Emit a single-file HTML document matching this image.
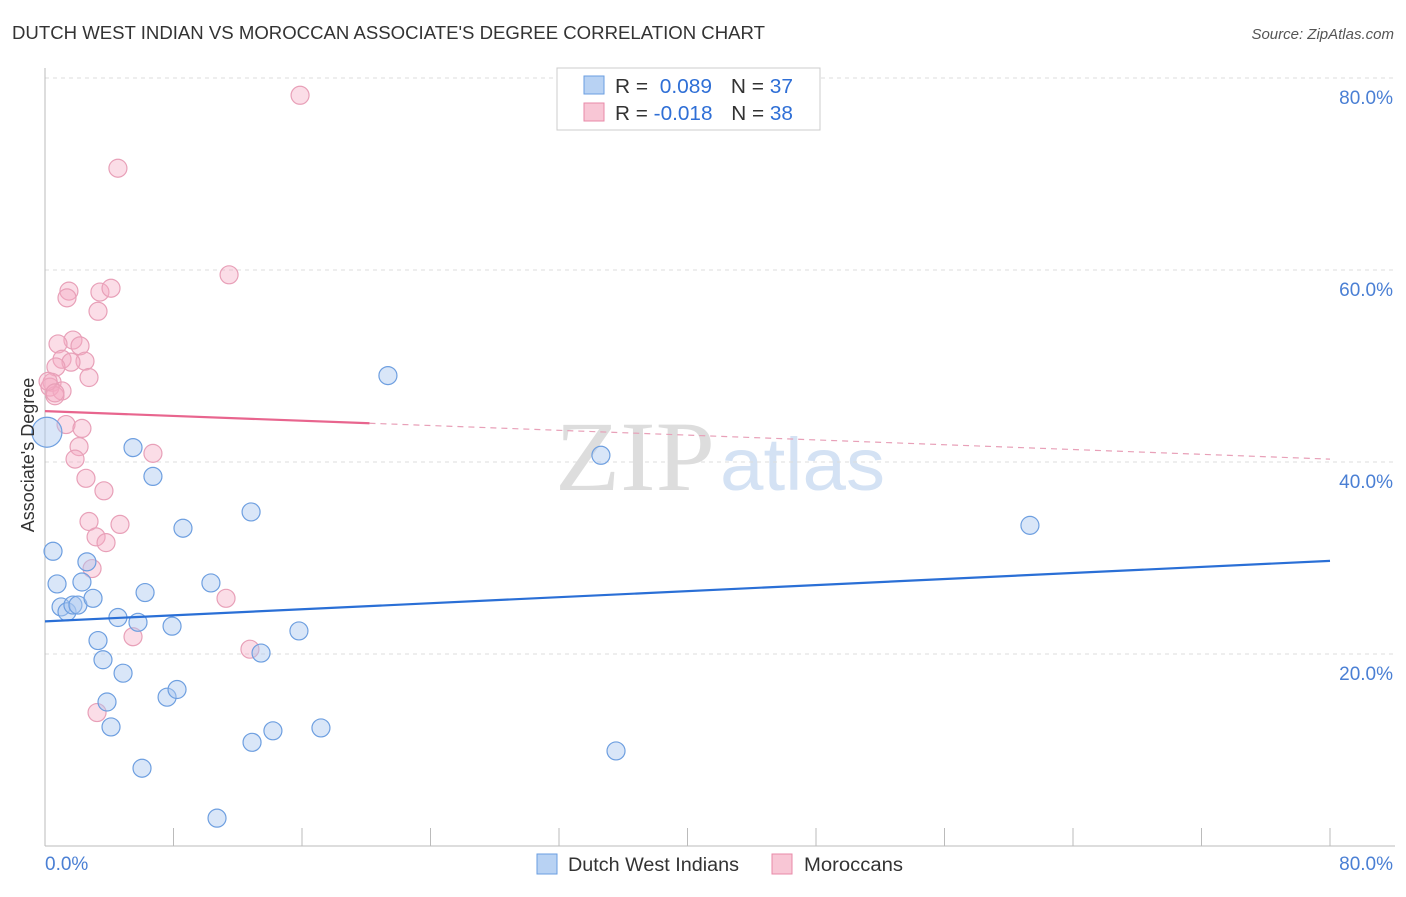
<!DOCTYPE html>
<html><head><meta charset="utf-8"><style>
body{margin:0;background:#fff;font-family:"Liberation Sans",sans-serif}
svg text{font-family:"Liberation Sans",sans-serif}
</style></head><body>
<svg id="c" width="1406" height="892" xmlns="http://www.w3.org/2000/svg">
<text x="12" y="39" font-size="18" fill="#333" textLength="753" lengthAdjust="spacingAndGlyphs">DUTCH WEST INDIAN VS MOROCCAN ASSOCIATE'S DEGREE CORRELATION CHART</text>
<text x="1394" y="39" font-size="15" fill="#555" text-anchor="end" font-style="italic">Source: ZipAtlas.com</text>
<g>
<text x="555" y="490" font-size="100" fill="#ddd" textLength="160" lengthAdjust="spacingAndGlyphs" style="font-family:'Liberation Serif',serif">ZIP</text>
<text x="720" y="490" font-size="74" fill="#d4e2f4" textLength="165" lengthAdjust="spacingAndGlyphs">atlas</text>
</g>
<g id="grid"></g><g id="axes"></g><g id="pts"></g><g id="trend"></g>
<text transform="translate(34,455) rotate(-90)" font-size="18" fill="#333" text-anchor="middle">Associate's Degree</text>
<g>
<rect x="557" y="68" width="263" height="62" fill="#fff" stroke="#ccc"/>
<rect x="584" y="76" width="20" height="18" fill="#b8d2f3" stroke="#6a9ee0"/>
<rect x="584" y="103" width="20" height="18" fill="#f8c6d5" stroke="#e88aa8"/>
<text x="615" y="93" font-size="20" fill="#333" textLength="178" lengthAdjust="spacingAndGlyphs">R = <tspan fill="#2f6fd6">&#160;0.089</tspan><tspan dx="18">N = </tspan><tspan fill="#2f6fd6">37</tspan></text>
<text x="615" y="120" font-size="20" fill="#333" textLength="178" lengthAdjust="spacingAndGlyphs">R = <tspan fill="#2f6fd6">-0.018</tspan><tspan dx="18">N = </tspan><tspan fill="#2f6fd6">38</tspan></text>
</g>
<g>
<rect x="537" y="854" width="20" height="20" fill="#b8d2f3" stroke="#6a9ee0"/>
<text x="568" y="871" font-size="19" fill="#333" textLength="171" lengthAdjust="spacingAndGlyphs">Dutch West Indians</text>
<rect x="772" y="854" width="20" height="20" fill="#f8c6d5" stroke="#e88aa8"/>
<text x="804" y="871" font-size="19" fill="#333" textLength="99" lengthAdjust="spacingAndGlyphs">Moroccans</text>
</g>
</svg>
<script>
const yTicks=[20,40,60,80];
const xTickLabels=["0.0%","80.0%"];
const blueX=[0.12,0.5,0.75,1.0,1.37,1.74,2.05,2.3,2.61,2.99,3.3,3.61,3.86,4.11,4.54,4.86,5.48,5.79,6.04,6.23,6.72,7.6,7.91,8.22,8.59,10.33,10.71,12.83,12.89,13.45,14.19,15.81,17.18,21.35,34.61,35.55,61.32];
const blueY=[43.1,30.7,27.3,24.9,24.4,25.1,25.1,27.5,29.6,25.8,21.4,19.4,15.0,12.4,23.8,18.0,41.5,23.3,8.1,26.4,38.5,15.5,22.9,16.3,33.1,27.4,2.9,34.8,10.8,20.1,12.0,22.4,12.3,49.0,40.7,9.9,33.4];
const pinkX=[15.88,4.54,11.46,1.49,1.37,3.42,4.11,3.3,1.74,0.81,2.18,1.06,2.49,1.62,0.68,2.74,0.44,0.31,1.06,0.62,1.31,2.3,2.12,6.72,1.87,2.55,3.67,2.74,4.67,3.18,3.8,2.93,11.27,5.48,12.76,3.24,0.19,0.62];
const pinkY=[78.2,70.6,59.5,57.8,57.1,57.7,58.1,55.7,52.7,52.3,52.1,50.7,50.5,50.4,49.9,48.8,48.3,47.8,47.4,46.9,43.9,43.5,41.6,40.9,40.3,38.3,37.0,33.8,33.5,32.2,31.6,28.9,25.8,21.8,20.5,13.9,48.4,47.2];
const blueTrend=[23.4,29.7];
const pinkTrend=[45.3,40.3];
const NS="http://www.w3.org/2000/svg";
const X=v=>45+v*1285/80, Y=v=>846-v*9.6;
function mk(p,t,a){const e=document.createElementNS(NS,t);for(const k in a)e.setAttribute(k,a[k]);document.getElementById(p).appendChild(e);return e;}
yTicks.forEach(t=>{
 const l=mk('grid','line',{x1:45,x2:1395,y1:Y(t),y2:Y(t),stroke:'#ddd','stroke-dasharray':'4,4'});
 
 
 const tx=mk('grid','text',{x:1393,y:Y(t)+26,'font-size':19,fill:'#4a7fd4','text-anchor':'end'});tx.textContent=t.toFixed(1)+'%';
 
 
});
mk('axes','line',{x1:45,x2:45,y1:68,y2:846,stroke:'#bbb'});
mk('axes','line',{x1:45,x2:1395,y1:846,y2:846,stroke:'#bbb'});
for(let i=0;i<=10;i++){mk('axes','line',{x1:X(i*8),x2:X(i*8),y1:828,y2:846,stroke:'#bbb'});}
const xl0=mk('axes','text',{x:45,y:870,'font-size':19,fill:'#4a7fd4'});xl0.textContent=xTickLabels[0];


const xl1=mk('axes','text',{x:1393,y:870,'font-size':19,fill:'#4a7fd4','text-anchor':'end'});xl1.textContent=xTickLabels[1];


pinkX.forEach((v,i)=>{const c=mk('pts','circle',{cx:X(v),cy:Y(pinkY[i]),r:9,fill:'rgba(244,170,195,0.4)',stroke:'#e8a0b8','stroke-width':1.2});
 
 });
blueX.forEach((v,i)=>{const c=mk('pts','circle',{cx:X(v),cy:Y(blueY[i]),r:i==0?15:9,fill:'rgba(170,200,240,0.45)',stroke:'#6e9fe0','stroke-width':1.2});
 
 });
const bt=mk('trend','line',{x1:X(0),x2:X(80),y1:Y(blueTrend[0]),y2:Y(blueTrend[1]),stroke:'#2a6fd6','stroke-width':2.2});


const pm=pinkTrend[0]+(pinkTrend[1]-pinkTrend[0])*20.2/80;
const pt=mk('trend','line',{x1:X(0),x2:X(20.2),y1:Y(pinkTrend[0]),y2:Y(pm),stroke:'#e8658e','stroke-width':2.2});


const pd=mk('trend','line',{x1:X(20.2),x2:X(80),y1:Y(pm),y2:Y(pinkTrend[1]),stroke:'#e8a0b8','stroke-width':1.2,'stroke-dasharray':'6,5'});


</script>
</body></html>
